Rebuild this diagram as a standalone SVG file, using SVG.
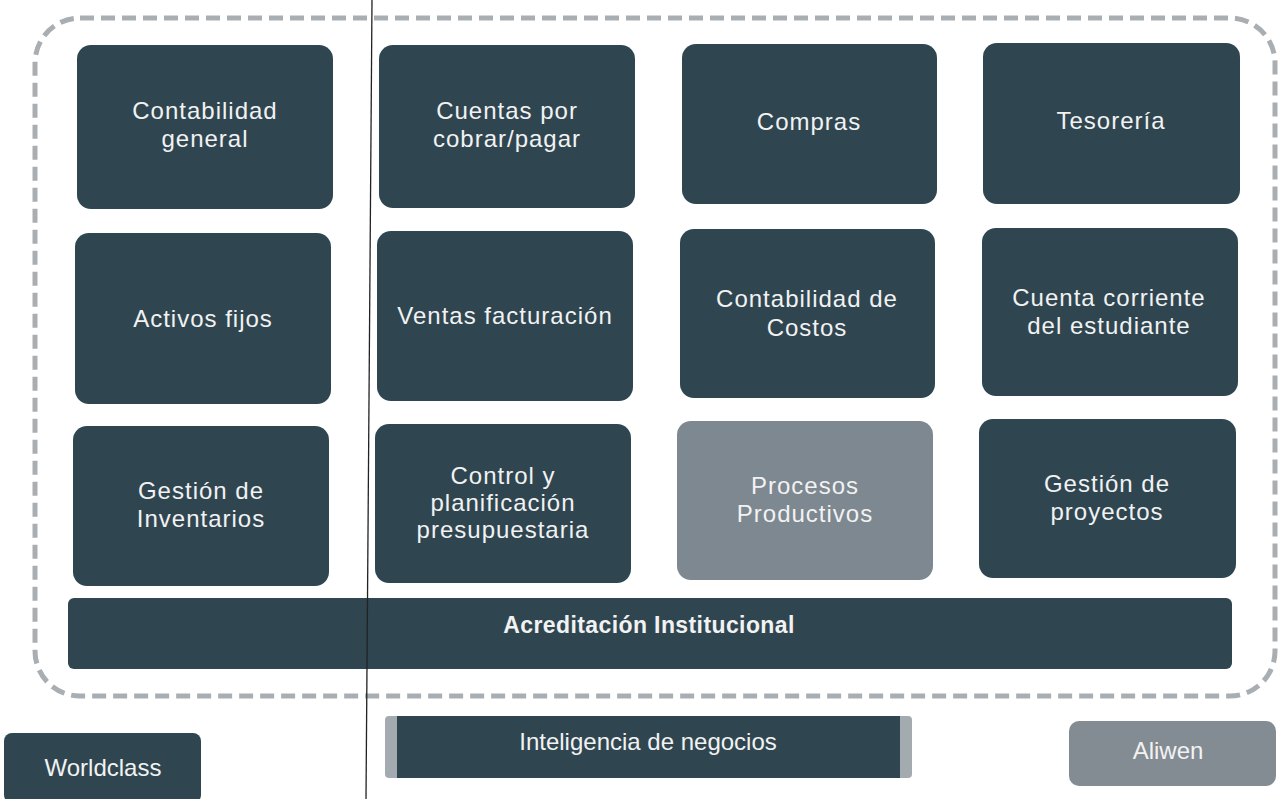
<svg xmlns="http://www.w3.org/2000/svg" width="1285" height="799" viewBox="0 0 1285 799">
<style>
.dark{fill:#2f4651}
.light{fill:#7d8891}
.t{font-family:"Liberation Sans",Arial,sans-serif;fill:#f2f2f2;text-anchor:middle}
.n{font-size:24px;letter-spacing:1px}
.s{font-size:24px}
.b{font-size:23px;font-weight:bold;letter-spacing:0.4px}
</style>
<rect width="1285" height="799" fill="#ffffff"/>
<g id="frame">
<rect x="35" y="18" width="1240" height="678" rx="45" ry="45" fill="none" stroke="#a9aeb3" stroke-width="5" stroke-dasharray="14 7"/>
</g>
<g id="n-contabilidad-general"><rect class="dark" x="77" y="45" width="256" height="164" rx="14"/><text class="t n"><tspan x="205" y="119">Contabilidad</tspan><tspan x="205" y="147">general</tspan></text></g>
<g id="n-cuentas"><rect class="dark" x="379" y="45" width="256" height="163" rx="14"/><text class="t n"><tspan x="507" y="119">Cuentas por</tspan><tspan x="507" y="147">cobrar/pagar</tspan></text></g>
<g id="n-compras"><rect class="dark" x="682" y="44" width="255" height="160" rx="14"/><text class="t n" x="809" y="130">Compras</text></g>
<g id="n-tesoreria"><rect class="dark" x="983" y="43" width="257" height="161" rx="14"/><text class="t n" x="1111" y="129">Tesorería</text></g>
<g id="n-activos"><rect class="dark" x="75" y="233" width="256" height="171" rx="14"/><text class="t n" x="203" y="327">Activos fijos</text></g>
<g id="n-ventas"><rect class="dark" x="377" y="231" width="256" height="170" rx="14"/><text class="t n" x="505" y="324">Ventas facturación</text></g>
<g id="n-costos"><rect class="dark" x="680" y="229" width="255" height="169" rx="14"/><text class="t n"><tspan x="807" y="307">Contabilidad de</tspan><tspan x="807" y="336">Costos</tspan></text></g>
<g id="n-cuenta-corriente"><rect class="dark" x="982" y="228" width="256" height="168" rx="14"/><text class="t n"><tspan x="1109" y="306">Cuenta corriente</tspan><tspan x="1109" y="334">del estudiante</tspan></text></g>
<g id="n-inventarios"><rect class="dark" x="73" y="426" width="256" height="160" rx="14"/><text class="t n"><tspan x="201" y="499">Gestión de</tspan><tspan x="201" y="527">Inventarios</tspan></text></g>
<g id="n-presupuestaria"><rect class="dark" x="375" y="424" width="256" height="159" rx="14"/><text class="t n"><tspan x="503" y="484">Control y</tspan><tspan x="503" y="511">planificación</tspan><tspan x="503" y="538">presupuestaria</tspan></text></g>
<g id="n-procesos"><rect class="light" x="677" y="421" width="256" height="159" rx="14"/><text class="t n"><tspan x="805" y="494">Procesos</tspan><tspan x="805" y="522">Productivos</tspan></text></g>
<g id="n-proyectos"><rect class="dark" x="979" y="419" width="257" height="159" rx="14"/><text class="t n"><tspan x="1107" y="492">Gestión de</tspan><tspan x="1107" y="520">proyectos</tspan></text></g>
<g id="n-acreditacion"><rect class="dark" x="68" y="598" width="1164" height="71" rx="6"/><text class="t b" x="649" y="633">Acreditación Institucional</text></g>
<g id="n-worldclass"><rect class="dark" x="4" y="733" width="197" height="70" rx="8"/><text class="t s" x="103" y="776">Worldclass</text></g>
<g id="n-inteligencia"><rect fill="#a3abb1" x="385" y="716" width="527" height="62" rx="4"/><rect class="dark" x="397" y="716" width="503" height="62"/><text class="t s" x="648" y="750">Inteligencia de negocios</text></g>
<g id="n-aliwen"><rect fill="#838c93" x="1069" y="721" width="207" height="65" rx="10"/><text class="t s" x="1168" y="759">Aliwen</text></g>
<g id="connectors">
<line x1="372" y1="0" x2="366" y2="799" stroke="#222" stroke-width="1.3"/>
</g>
</svg>
